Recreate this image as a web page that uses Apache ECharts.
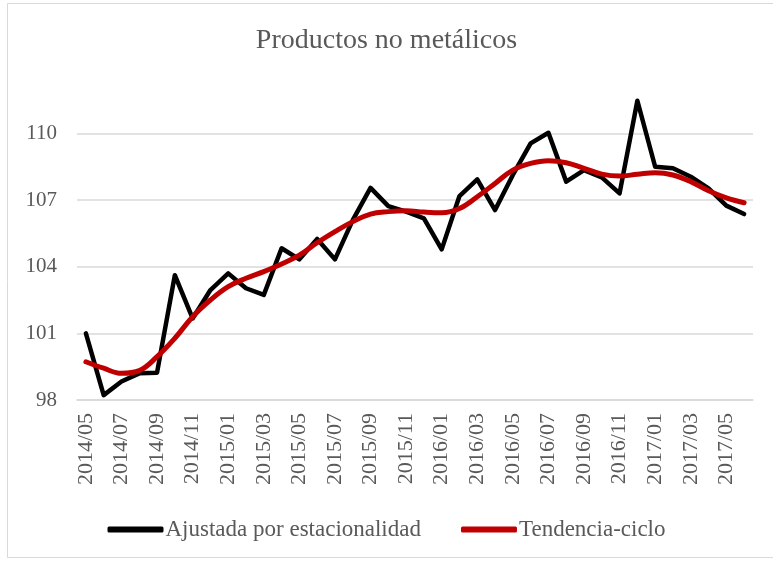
<!DOCTYPE html>
<html>
<head>
<meta charset="utf-8">
<script src="https://cdn.jsdelivr.net/npm/echarts@6/dist/echarts.min.js"></script>
<style>
html,body{margin:0;padding:0;background:#fff;}
#c{width:773px;height:561px;}
</style>
</head>
<body>
<div id="c"></div>
<script>
const categories = ['2014/05','2014/06','2014/07','2014/08','2014/09','2014/10','2014/11','2014/12',
  '2015/01','2015/02','2015/03','2015/04','2015/05','2015/06','2015/07','2015/08','2015/09','2015/10','2015/11','2015/12',
  '2016/01','2016/02','2016/03','2016/04','2016/05','2016/06','2016/07','2016/08','2016/09','2016/10','2016/11','2016/12',
  '2017/01','2017/02','2017/03','2017/04','2017/05','2017/06'];
const ajustada = [101.0, 98.22, 98.83, 99.2, 99.23, 103.62, 101.67, 102.95, 103.7, 103.03, 102.73, 104.83, 104.33,
  105.25, 104.33, 106.1, 107.55, 106.73, 106.48, 106.18, 104.78, 107.18, 107.93, 106.55, 108.13, 109.55, 110.03,
  107.83, 108.35, 108.02, 107.3, 111.47, 108.5, 108.43, 108.05, 107.53, 106.75, 106.37];
const tendencia = [99.72, 99.43, 99.2, 99.32, 99.95, 100.78, 101.75, 102.5, 103.1, 103.48, 103.78, 104.12, 104.52,
  105.08, 105.58, 106.03, 106.37, 106.48, 106.52, 106.46, 106.43, 106.62, 107.15, 107.75, 108.35, 108.65, 108.77,
  108.68, 108.43, 108.17, 108.08, 108.16, 108.23, 108.13, 107.83, 107.42, 107.1, 106.88];
const yTicks = [98, 101, 104, 107, 110];
const titleText = 'Productos no metálicos';
const seriesNames = ['Ajustada por estacionalidad', 'Tendencia-ciclo'];

const font = '"Liberation Serif", "DejaVu Serif", serif';
const gray = '#595959';
const chart = echarts.init(document.getElementById('c'), null, {renderer: 'canvas'});
chart.setOption({
  animation: false,
  backgroundColor: '#fff',
  graphic: [{
    type: 'rect', silent: true, z: -1,
    shape: {x: 7.5, y: 3.5, width: 800, height: 554},
    style: {fill: 'none', stroke: '#d9d9d9', lineWidth: 1}
  }],
  title: {
    text: titleText, left: 'center', top: 22,
    textStyle: {fontFamily: font, fontSize: 28, fontWeight: 'normal', color: gray}
  },
  legend: {
    bottom: 15, left: 'center', itemGap: 40, itemWidth: 56, itemHeight: 6,
    icon: 'roundRect',
    textStyle: {fontFamily: font, fontSize: 23, color: gray, padding: [0, 0, 0, -3]},
    data: seriesNames
  },
  grid: {left: 77, right: 20, top: 89, bottom: 161, containLabel: false},
  xAxis: {
    type: 'category', data: categories, boundaryGap: true,
    axisLine: {show: true, lineStyle: {color: '#d9d9d9', width: 1.5}},
    axisTick: {show: false},
    axisLabel: {interval: 1, rotate: 90, margin: 13, fontFamily: font, fontSize: 22, color: gray}
  },
  yAxis: {
    type: 'value', min: 98, max: 112, interval: 3,
    axisLine: {show: false}, axisTick: {show: false},
    axisLabel: {
      margin: 20, fontFamily: font, fontSize: 21, color: gray,
      formatter: v => (yTicks.indexOf(v) >= 0 ? String(v) : '')
    },
    splitLine: {lineStyle: {color: ['#d9d9d9','#d9d9d9','#d9d9d9','#d9d9d9','#d9d9d9','rgba(0,0,0,0)'], width: 1.5}}
  },
  series: [
    {
      name: seriesNames[0], type: 'line', data: ajustada, showSymbol: false, symbol: 'none',
      lineStyle: {color: '#000', width: 4.5, join: 'round', cap: 'round'},
      itemStyle: {color: '#000'}, z: 2
    },
    {
      name: seriesNames[1], type: 'line', data: tendencia, showSymbol: false, symbol: 'none', smooth: 0.4,
      lineStyle: {color: '#c00000', width: 5, cap: 'round'},
      itemStyle: {color: '#c00000'}, z: 3
    }
  ]
});
</script>
</body>
</html>
